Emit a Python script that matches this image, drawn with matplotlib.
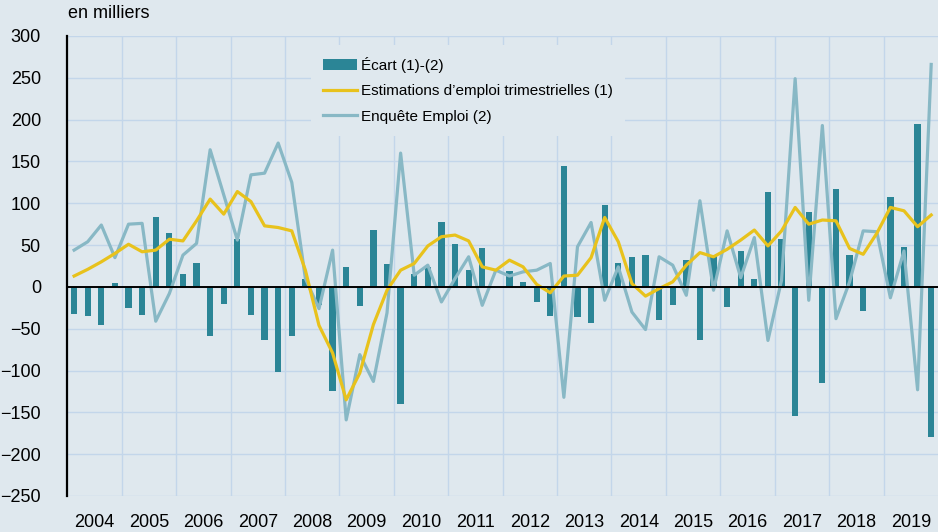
import matplotlib
matplotlib.use('Agg')
import matplotlib.pyplot as plt
from matplotlib.ticker import FuncFormatter, MultipleLocator
import numpy as np

plt.rcParams['font.family'] = ['Liberation Sans Narrow', 'Liberation Sans', 'DejaVu Sans']

years = list(range(2004, 2020))

# Estimations d'emploi trimestrielles (1), en milliers
estimations = [13, 21, 30, 40,
               51, 42, 44, 57,
               55, 79, 105, 87,
               114, 102, 73, 71,
               67, 20, -46, -79,
               -135, -103, -45, -4,
               20, 28, 49, 60,
               62, 55, 24, 20,
               32, 24, 3, -7,
               13, 14, 35, 83,
               54, 4, -11, -2,
               6, 26, 41, 36,
               45, 56, 68, 49,
               67, 95, 75, 80,
               79, 46, 39, 64,
               95, 91, 72, 86]

# Enquete Emploi (2)
enquete = [44, 54, 74, 35,
           75, 76, -41, -8,
           38, 52, 164, 110,
           56, 134, 136, 172,
           125, 10, -26, 44,
           -159, -81, -113, -31,
           160, 14, 26, -18,
           10, 36, -22, 20,
           13, 18, 20, 28,
           -132, 48, 77, -16,
           24, -30, -51, 36,
           26, -10, 103, -4,
           67, 11, 59, -64,
           8, 249, -16, 193,
           -38, 6, 67, 66,
           -13, 43, -123, 266]

# Ecart (1)-(2)
ecart = [-32, -35, -46, 5,
         -25, -34, 84, 65,
         16, 28, -59, -21,
         57, -33, -64, -102,
         -59, 10, -22, -125,
         24, -23, 68, 27,
         -140, 16, 24, 78,
         51, 20, 47, 0,
         19, 6, -18, -35,
         144, -36, -43, 98,
         29, 36, 38, -39,
         -22, 32, -63, 38,
         -24, 43, 9, 113,
         57, -154, 90, -115,
         117, 38, -29, 1,
         108, 48, 195, -180]

bg = '#dfe8ee'
grid_col = '#c3d6ea'
bar_col = '#2b8596'
yel_col = '#e8c21c'
blu_col = '#88b8c5'

x = np.array([y + (q + 0.5) / 4 for y in years for q in range(4)])

fig = plt.figure(figsize=(9.38, 5.32), dpi=100)
fig.patch.set_facecolor(bg)
ax = fig.add_axes([67.3 / 938, 1 - 496 / 532, 1 - 67.3 / 938, 460 / 532])
ax.set_facecolor(bg)

b = ax.bar(x, ecart, width=0.115, color=bar_col, zorder=2, label='Écart (1)-(2)')
l1, = ax.plot(x, estimations, color=yel_col, lw=2.3, zorder=4,
              label='Estimations d\u2019emploi trimestrielles (1)')
l2, = ax.plot(x, enquete, color=blu_col, lw=2.3, zorder=3, label='Enquête Emploi (2)')
ax.axhline(0, color='black', lw=1.4, zorder=5)

ax.set_xlim(2004, 2020)
ax.set_ylim(-250, 300)
ax.yaxis.set_major_locator(MultipleLocator(50))
ax.yaxis.set_major_formatter(FuncFormatter(lambda v, p: ('\u2212' + '%d' % -v) if v < 0 else '%d' % v))
ax.set_xticks([y + 0.5 for y in years])
ax.set_xticklabels([str(y) for y in years])
ax.grid(False)
for y in range(2005, 2020):
    ax.axvline(y, color=grid_col, lw=1, zorder=1)
for v in range(-250, 301, 50):
    ax.axhline(v, color=grid_col, lw=1, zorder=1)

ax.tick_params(axis='both', which='both', length=0, labelsize=13)
ax.tick_params(axis='y', pad=19)
ax.tick_params(axis='x', pad=13)
for s in ['top', 'right', 'bottom']:
    ax.spines[s].set_visible(False)
ax.spines['left'].set_color('black')
ax.spines['left'].set_linewidth(1.6)
ax.spines['left'].set_zorder(6)

leg = ax.legend(handles=[b, l1, l2], loc='upper left',
                bbox_to_anchor=((303 - 67.3) / 870.5, 0.998),
                frameon=True, facecolor=bg, edgecolor='none', framealpha=1,
                fontsize=11, handlelength=2.2, handletextpad=0.3,
                labelspacing=0.75, borderpad=0.8, fancybox=False)
leg.set_zorder(7)

fig.text(68 / 938, 1 - 14 / 532, 'en milliers', fontsize=13, va='center', ha='left')

fig.savefig('out.png', dpi=100, facecolor=bg)
